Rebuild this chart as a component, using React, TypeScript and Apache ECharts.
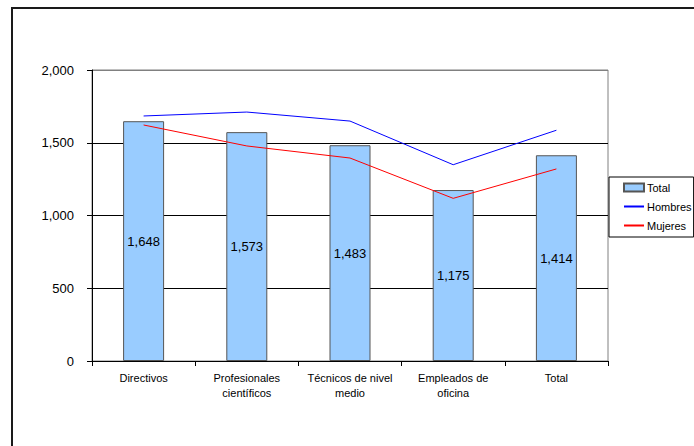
import React, { useEffect, useRef } from "react";
import * as echarts from "echarts";

const categories = [
  "Directivos",
  "Profesionales\ncientíficos",
  "Técnicos de nivel\nmedio",
  "Empleados de\noficina",
  "Total",
];
const totalValues = [1648, 1573, 1483, 1175, 1414];
const hombresValues = [1684, 1711, 1649, 1349, 1586];
const mujeresValues = [1622, 1478, 1395, 1118, 1320];

const fmt = (v: number) => v.toLocaleString("en-US");

export default function App() {
  const ref = useRef<HTMLDivElement>(null);
  useEffect(() => {
    if (!ref.current) return;
    const chart = echarts.init(ref.current, null, { renderer: "svg" });
    const font = "'Liberation Sans', Arial, sans-serif";
    chart.setOption({
      animation: false,
      backgroundColor: "#fff",
      textStyle: { fontFamily: font, color: "#000" },
      graphic: [
        {
          type: "rect",
          shape: { x: 12, y: 8, width: 720, height: 480 },
          style: { fill: "none", stroke: "#1a1a1a", lineWidth: 2 },
          z: 0,
        },
      ],
      grid: {
        left: 92,
        right: 86,
        top: 70,
        bottom: 85,
        show: true,
        borderColor: "#808080",
        borderWidth: 1,
      },
      legend: {
        orient: "vertical",
        left: 609,
        top: 177,
        itemWidth: 20,
        itemHeight: 8,
        itemGap: 8,
        padding: [5, 2, 6, 14],
        borderColor: "#000",
        borderWidth: 1,
        backgroundColor: "#fff",
        textStyle: { fontSize: 11, color: "#000", fontFamily: font, padding: [0, 0, 0, -2] },
        data: [
          { name: "Total", icon: "rect" },
          { name: "Hombres", itemStyle: { opacity: 0 } },
          { name: "Mujeres", itemStyle: { opacity: 0 } },
        ],
      },
      xAxis: {
        type: "category",
        data: categories,
        axisLine: { lineStyle: { color: "#000", width: 1 } },
        axisTick: { show: true, length: 5, lineStyle: { color: "#000" } },
        axisLabel: {
          interval: 0,
          fontSize: 11,
          color: "#000",
          margin: 9,
          lineHeight: 15,
          fontFamily: font,
        },
      },
      yAxis: {
        type: "value",
        min: 0,
        max: 2000,
        interval: 500,
        axisLine: { show: true, lineStyle: { color: "#000", width: 1 } },
        axisTick: { show: true, length: 5, inside: false, lineStyle: { color: "#000" } },
        axisLabel: {
          fontSize: 13,
          color: "#000",
          margin: 18,
          formatter: (v: number) => fmt(v),
          fontFamily: font,
        },
        splitLine: {
          show: true,
          lineStyle: { color: ["#000", "#000", "#000", "#000", "#808080"], width: 1 },
        },
      },
      series: [
        {
          name: "Total",
          type: "bar",
          data: totalValues,
          barWidth: 41,
          itemStyle: { color: "#99CCFF", borderColor: "#555", borderWidth: 1 },
          label: {
            show: true,
            position: "inside",
            fontSize: 13,
            color: "#000",
            fontFamily: font,
            formatter: (p: any) => fmt(p.value),
          },
          z: 2,
        },
        {
          name: "Hombres",
          type: "line",
          data: hombresValues,
          symbol: "none",
          lineStyle: { color: "#0000FF", width: 1 },
          itemStyle: { color: "#0000FF" },
          z: 3,
        },
        {
          name: "Mujeres",
          type: "line",
          data: mujeresValues,
          symbol: "none",
          lineStyle: { color: "#FF0000", width: 1 },
          itemStyle: { color: "#FF0000" },
          z: 3,
        },
      ],
    });
    return () => chart.dispose();
  }, []);
  return (
    <div
      ref={ref}
      style={{ position: "fixed", left: 0, top: 0, width: 694, height: 446 }}
    />
  );
}
